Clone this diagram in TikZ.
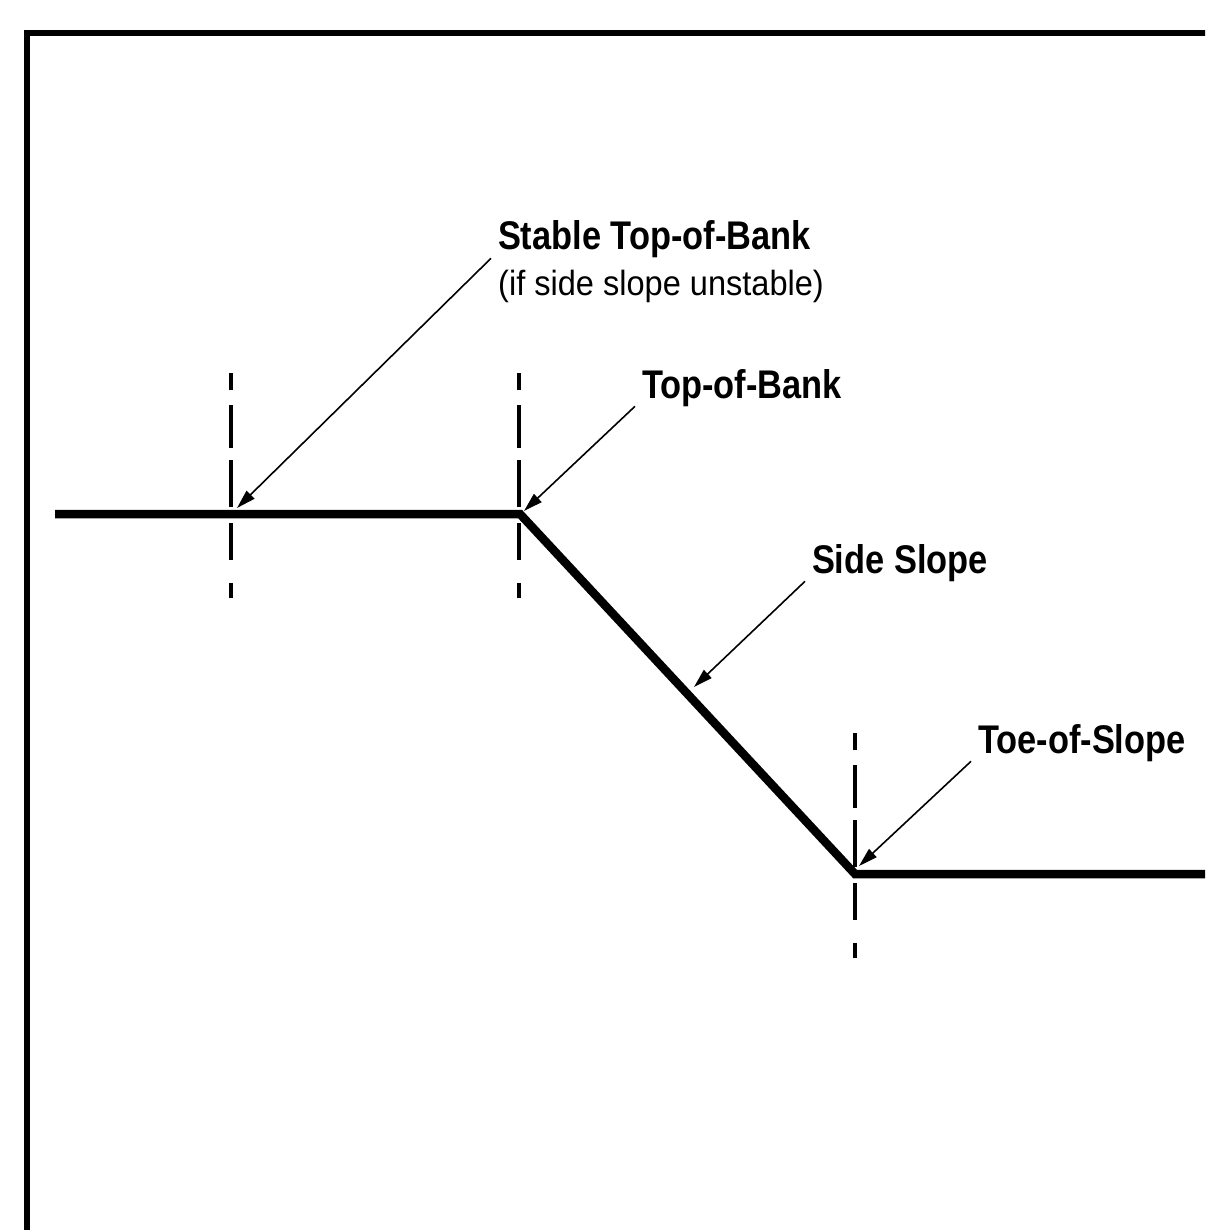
\documentclass[tikz,border=0pt]{standalone}
\usepackage{fontspec}
\setmainfont{Liberation Sans}
\newfontfamily\lblfont[FakeStretch=0.86]{Liberation Sans}
\newfontfamily\subfont[FakeStretch=0.93]{Liberation Sans}
\usepackage{tikz}
\usetikzlibrary{arrows.meta,positioning}

\begin{document}
\begin{tikzpicture}[x=1pt,y=-1pt,
  bank/.style={line width=8.5pt,line join=miter},
  cutline/.style={line width=4pt,dash pattern=on 17pt off 15pt on 43pt off 12pt on 47pt off 16pt on 37pt off 23pt on 15pt},
  callout/.style={line width=1.6pt,-{Triangle[length=19pt,width=11pt]}},
  lbl/.style={anchor=base west,inner sep=0pt,outer xsep=7pt,outer ysep=0pt,font=\lblfont\bfseries\fontsize{40}{42}\selectfont},
  sublbl/.style={anchor=base west,inner sep=0pt,font=\subfont\fontsize{35}{37}\selectfont}]
\useasboundingbox (0,0) rectangle (1205,1230);
\clip (0,0) rectangle (1205,1230);
% --- frame ---
\draw[line width=6pt,line join=miter] (27,1240) -- (27,33) -- (1215,33);
% --- ground profile ---
\coordinate (start) at (55,514);
\coordinate (crest) at (520,514);
\coordinate (toept) at (855,874);
\coordinate (end) at (1215,874);
\draw[bank] (start) -- (crest) -- (toept) -- (end);
% --- dashed markers ---
\draw[cutline] (231,373) -- (231,598);
\draw[cutline] (519,373) -- (519,598);
\draw[cutline] (855,733) -- (855,958);
% --- labels ---
\node[lbl] (stable) at (491,250) {Stable Top-of-Bank};
\node[sublbl] (stablesub) at (498,295) {(if side slope unstable)};
\node[lbl] (top) at (635,398) {Top-of-Bank};
\node[lbl] (side) at (805,573) {Side Slope};
\node[lbl] (toe) at (971,753) {Toe-of-Slope};
% --- callouts ---
\coordinate (stabletip) at (237,508);
\coordinate (cresttip) at (524,511);
\coordinate (slopetip) at (694,687);
\coordinate (toetip) at (859,866);
\draw[callout] (stable.south west) -- (stabletip);
\draw[callout] (top.south west) -- (cresttip);
\draw[callout] (side.south west) -- (slopetip);
\draw[callout] (toe.south west) -- (toetip);
\end{tikzpicture}
\end{document}
